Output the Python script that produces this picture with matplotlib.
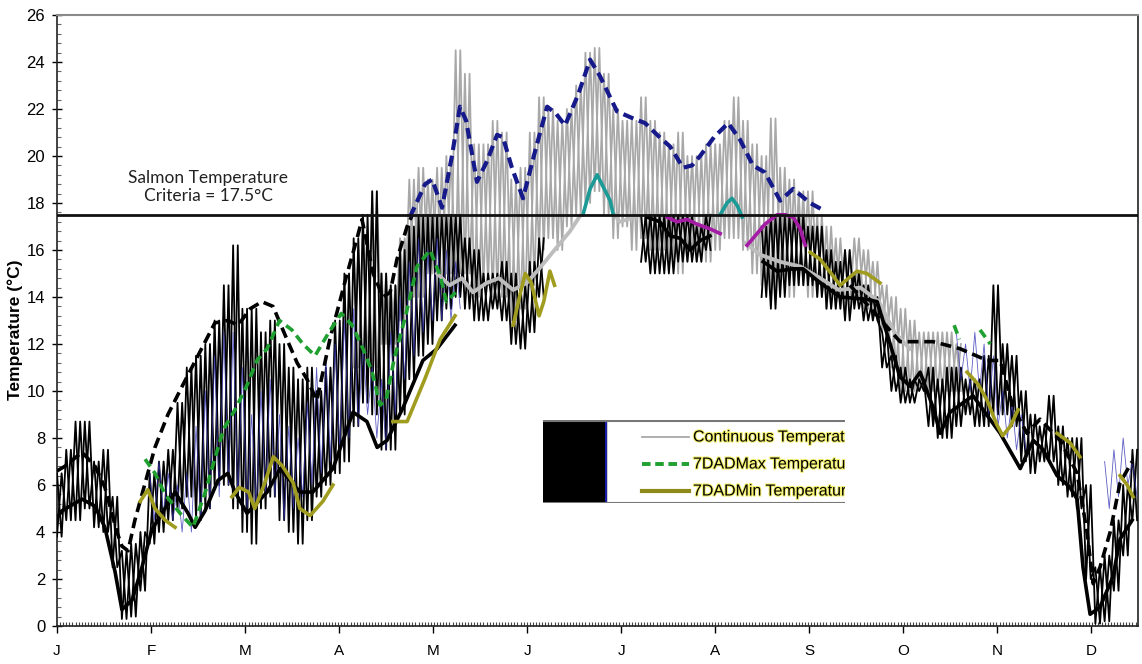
import numpy as np
import matplotlib
matplotlib.use("Agg")
import matplotlib.pyplot as plt
from matplotlib.patches import Rectangle
from matplotlib.ticker import MultipleLocator
import matplotlib.patheffects as pe

plt.rcParams['font.family'] = ['Liberation Sans', 'DejaVu Sans']

# day-of-year anchors every 3 days (Jan 1 .. mid Dec)
days = np.arange(0, 349, 3)
N = None

# black station, daily highs / lows
black_hi = [6.5, 7.5, 8.7, 8.7, 7.0, 7.5, 5.5, 3.2, 3.5, 4.0,
            6.5, 7.0, 7.5, 9.5, 11.0, 11.5, 12.0, 13.0, 14.5, 16.2,
            13.5, 13.5, 12.5, 13.0, 12.0, 11.0, 10.5, 11.0, 10.0, 11.0,
            13.0, 15.0, 16.5, 17.5, 18.5, 15.0, 14.5, 16.0, 17.0, 17.5,
            17.5, 17.5, 17.5, 17.5, 16.5, 16.0, 15.0, 15.0, 15.5, 15.0,
            14.5, 15.5, 16.5, N, N, N, N, N, N, N,
            N, N, N, 17.5, 17.5, 17.5, 17.5, 17.5, 17.5, 17.0,
            17.5, N, N, N, N, N, 17.0, 17.5, 17.5, 17.5,
            17.5, 17.0, 17.0, 16.0, 15.5, 16.0, 15.0, 14.5, 14.0, 12.5,
            11.5, 11.0, 10.5, 10.5, 11.0, 10.5, 11.0, 11.0, 10.5, 10.5,
            11.5, 14.5, 12.0, 11.5, 10.0, 9.0, 8.5, 9.8, 8.5, 8.0,
            8.0, 6.0, 2.5, 3.0, 4.5, 6.0, 7.5]
black_lo = [3.8, 4.5, 4.5, 5.0, 4.2, 4.0, 2.5, 0.3, 0.4, 1.5,
            3.5, 4.0, 4.5, 5.0, 5.5, 4.5, 5.0, 6.0, 6.0, 5.0,
            4.0, 3.5, 5.0, 5.5, 4.5, 4.0, 3.5, 4.5, 5.5, 6.0,
            6.5, 7.0, 8.5, 9.5, 9.0, 7.5, 7.5, 9.0, 10.5, 11.5,
            12.0, 13.0, 13.5, 14.0, 13.5, 13.0, 13.0, 13.5, 13.0, 12.0,
            11.8, 12.5, 14.0, N, N, N, N, N, N, N,
            N, N, N, 15.5, 15.0, 15.0, 15.0, 15.5, 15.5, 15.5,
            16.0, N, N, N, N, N, 14.0, 13.5, 14.0, 14.5,
            14.5, 14.5, 14.0, 13.5, 13.5, 13.0, 13.5, 13.0, 13.0, 11.0,
            10.0, 9.5, 9.5, 10.0, 8.5, 8.0, 8.0, 8.5, 9.0, 8.5,
            8.5, 9.0, 9.0, 8.5, 7.0, 6.5, 7.0, 7.0, 6.0, 5.5,
            5.0, 2.0, 0.1, 0.2, 1.5, 3.0, 4.5]

# gray station (continuous temperature)
gray_hi = [N] * 30 + [
    N, N, 16.0, 17.0, 18.5, 15.0, 14.5, 16.5, 19.0, 19.5,
    19.0, 19.5, 20.0, 24.5, 23.5, 20.5, 20.5, 21.5, 21.0, 19.0,
    19.5, 21.0, 22.5, 22.0, 21.5, 22.0, 23.0, 24.4, 24.6, 23.5,
    22.0, 21.5, 21.5, 22.5, 21.5, 21.0, 20.5, 21.0, 20.0, 20.0,
    20.5, 20.5, 21.5, 22.5, 21.5, 20.5, 20.0, 21.6, 19.5, 19.0,
    18.5, 18.5, 17.5, 17.0, 16.5, 16.0, 16.5, 16.0, 15.5, 14.5,
    14.0, 13.5, 13.0, 12.5, 12.5, 12.5, 12.5, 12.0, N, N] + [N] * 17
gray_lo = [N] * 30 + [
    N, N, 11.0, 11.0, 11.0, 12.0, 12.0, 13.0, 14.0, 14.0,
    15.0, 14.0, 15.0, 15.0, 15.0, 14.0, 14.5, 14.0, 14.0, 13.0,
    13.5, 14.5, 16.0, 16.5, 16.0, 17.0, 17.5, 18.0, 18.5, 17.5,
    16.5, 17.0, 16.0, 16.5, 16.0, 16.0, 15.5, 15.0, 15.5, 15.5,
    15.5, 16.0, 16.5, 16.5, 16.0, 15.0, 14.5, 14.0, 14.5, 14.0,
    14.5, 14.0, 14.0, 13.5, 13.5, 13.5, 14.0, 13.5, 13.0, 12.5,
    11.0, 10.0, 10.0, 10.0, 10.0, 10.0, 10.0, 10.0, N, N] + [N] * 17

# blue station
blue_hi = [N] * 10 + [
    6.5, 7.0, 6.5, 6.0, 6.5, 8.5, 10.0, 11.5, 12.5, 12.5,
    11.0, 9.0, 10.0, 10.5, 9.0, 8.5, 8.0, 9.5, 11.0, 11.5,
    12.0, 13.0, 13.5, 12.0, 11.0, 10.5, 12.5, 14.0, 15.5, 16.5,
    16.0, 16.5, 16.0, 15.5] + [N] * 53 + [
    12.5, 12.0, 12.5, 12.0, 11.5, 10.0, 9.5, 9.0] + [N] * 8 + [7.0, 7.5, 8.0, 7.0]
blue_lo = [N] * 10 + [
    4.5, 4.8, 4.5, 4.0, 4.0, 4.5, 5.0, 5.5, 6.0, 5.5,
    5.0, 5.0, 5.5, 5.5, 4.5, 5.0, 5.5, 6.0, 6.5, 7.0,
    7.5, 8.0, 8.5, 9.0, 8.0, 7.5, 9.0, 10.5, 11.5, 12.5,
    13.0, 13.0, 13.0, 13.5] + [N] * 53 + [
    10.5, 10.0, 10.0, 9.0, 8.5, 8.0, 7.5, 7.5] + [N] * 8 + [5.0, 5.5, 6.0, 5.5]

# black station 7-day averages
bmax_d = [0, 2.6, 8.1, 12.3, 15.5, 19.4, 21.0, 23.0, 25.2, 31.7, 35.9, 40.5, 45.6, 51.1,
          55.3, 58.6, 62.5, 66.3, 69.9, 74.4, 77.7, 80.9, 84.1, 88.3, 93.9, 97.1, 98.7,
          102.3, 105.5, 107.8, 110.0, 113.3, 115.0, 116,
          256.6, 265.4, 272.8, 283.5, 292.2, 301.0, 305.2, 309.4, 313.9, 318.1, 324.6,
          330.1, 333.3, 335.3, 337.5, 340.8, 344.0, 347.9]
bmax_t = [6.6, 6.8, 7.4, 6.8, 5.9, 4.0, 3.4, 3.2, 4.5, 7.6, 9.0, 10.2, 11.5, 12.9,
          13.0, 12.8, 13.5, 13.8, 13.6, 12.2, 11.2, 10.5, 9.6, 12.2, 15.0, 16.5, 17.3,
          15.0, 14.0, 14.2, 15.6, 17.0, 17.5, N,
          14.5, 13.2, 12.1, 12.1, 11.8, 11.3, 11.3, 9.3, 8.2, 8.8, 7.9,
          6.5, 4.0, 1.8, 2.5, 4.0, 6.1, 7.0]
bmin_d = [0, 1.6, 8.1, 12.3, 15.5, 18.8, 21.0, 24.3, 27.5, 30.7, 34.0, 38.2, 42.4, 44.7,
          47.9, 52.1, 55.3, 57.6, 61.5, 68.0, 72.2, 78.6, 82.8, 89.3, 95.8, 100.3, 103.6,
          106.8, 112.0, 118.4, 123.0, 128.8, 129,
          190.9, 195.1, 198.4, 201.6, 204.9, 208.1, 211.3, 212,
          228.5, 233.0, 238.2, 241.4, 247.0, 253.4, 262.1, 265.4, 269.6, 272.8, 276.1,
          279.3, 283.5, 285.8, 289.0, 293.2, 296.4, 305.2, 311.7, 315.9, 319.1, 323.6,
          327.8, 330.1, 332.0, 334.3, 337.5, 341.7, 344.0, 347.9]
bmin_t = [4.6, 4.9, 5.4, 5.1, 4.2, 2.3, 0.7, 1.1, 2.5, 4.1, 4.8, 5.7, 4.8, 4.2,
          4.9, 6.2, 6.5, 5.7, 4.8, 5.7, 6.7, 5.7, 5.7, 6.7, 9.1, 8.7, 7.6,
          7.9, 9.3, 11.3, 11.8, 12.8, N,
          17.4, 17.2, 16.6, 16.5, 16.0, 16.4, 16.6, N,
          15.5, 15.1, 15.2, 15.2, 14.6, 14.0, 13.9, 13.8, 12.0, 10.6, 10.2,
          10.8, 9.3, 8.2, 9.1, 9.5, 9.8, 8.2, 6.7, 7.9, 7.5, 6.4,
          5.9, 5.4, 2.5, 0.5, 0.8, 2.1, 3.7, 4.5]

# gray station 7DADMax
nmax_d = [114.2, 119.1, 121.4, 124.6, 127.8, 130.4, 132.4, 135.9, 139.2, 142.4, 144.3,
          147.2, 150.8, 154.7, 158.6, 161.5, 164.4, 168.6, 172.5, 175.7, 181.2, 186.4,
          190.3, 194.2, 198.4, 202.6, 205.5, 208.1, 212.6, 217.2, 221.0, 225.2, 229.1,
          234.0, 238.2, 243.7, 247.9]
nmax_t = [17.4, 18.8, 19.0, 17.8, 20.0, 22.1, 21.5, 18.9, 19.8, 20.9, 20.8,
          19.5, 18.2, 20.2, 22.1, 21.8, 21.3, 22.6, 24.1, 23.4, 21.9, 21.6,
          21.4, 20.9, 20.4, 19.5, 19.6, 20.0, 20.8, 21.4, 20.7, 19.6, 19.3,
          18.1, 18.6, 18.0, 17.7]
# gray station 7DADMin
gmin_d = [123, 127, 131, 134.6, 139, 143, 147.6, 152, 156, 161, 166, 170, 171,
          180, 182, 184.5, 188.7, 189,
          222.7, 227.5, 234, 240.5, 247, 253, 260, 266, 271, 276]
gmin_t = [15.0, 14.5, 14.8, 14.2, 14.6, 14.8, 14.3, 14.6, 15.2, 16.0, 16.8, 17.6, N,
          17.6, 17.2, 17.3, 17.5, N,
          16.3, 15.8, 15.5, 15.3, 14.8, 14.3, 14.4, 13.8, 12.5, 11.8]

# 7DADMax (green) and 7DADMin (olive)
green_d = [28.5, 31.7, 35.0, 39.8, 44.0, 48.0, 51.0, 54.0, 57.6, 61.0, 64.7, 68.0, 72.0,
           76.0, 79.6, 83.5, 88.0, 92.0, 95.5, 99.0, 102.0, 104.5, 106.5, 109.0, 113.0,
           116.5, 120.7, 124.0, 126.0, 129.0, 130,
           290.3, 292.0, 293, 298.7, 302.0]
green_t = [7.1, 6.5, 5.6, 4.8, 4.2, 5.7, 7.1, 8.4, 9.2, 10.1, 11.3, 11.8, 13.0,
           12.6, 12.0, 11.5, 12.5, 13.3, 12.8, 11.8, 10.8, 9.4, 9.6, 11.3, 13.3,
           15.3, 16.0, 14.9, 13.8, 14.2, N,
           12.8, 12.2, N, 12.6, 12.0]
olive_d = [26.9, 29.4, 31.7, 35.0, 38.2, 39,
           56.6, 59.0, 62.0, 64.0, 67.0, 70.0, 73.0, 76.4, 78.6, 81.9, 86.0, 89.3, 92,
           108.7, 113.3, 119.0, 124.0, 128.8, 129,
           147.6, 150.0, 151.5, 153.5, 156.0, 157.5, 159.5, 161.0, 162,
           243.7, 247.0, 251.1, 253.4, 258.9, 262.1, 266.3, 267,
           294.5, 298.0, 301.0, 304.0, 306.0, 308.5, 311.0, 312,
           323.6, 327.8, 331.0, 332, 344.0, 346.3, 348.2]
olive_t = [5.3, 5.8, 5.0, 4.5, 4.2, N,
           5.5, 5.9, 5.7, 5.0, 6.0, 7.2, 6.8, 6.1, 5.0, 4.7, 5.3, 6.0, N,
           8.7, 8.7, 10.5, 12.2, 13.2, N,
           12.8, 14.2, 15.0, 14.6, 13.2, 13.8, 15.1, 14.5, N,
           15.9, 15.6, 14.9, 14.5, 15.1, 15.0, 14.6, N,
           10.8, 10.3, 9.6, 8.6, 8.1, 8.5, 9.2, N,
           8.2, 7.8, 7.2, N, 6.4, 6.0, 5.5]

teal_d = [170.2, 172.5, 174.8, 176.7, 179.0, 180.0, 181, 214.6, 216.8, 218.4, 220.1, 221.7]
teal_t = [17.5, 18.6, 19.2, 18.7, 18.1, 17.5, N, 17.5, 18.0, 18.2, 17.9, 17.4]
mag_d = [197.4, 200.6, 203.9, 207.1, 211.3, 214.6, 216,
         223.3, 225.9, 229.1, 233.0, 235.6, 238.2, 240.5, 242.1]
mag_t = [17.4, 17.2, 17.3, 17.1, 16.9, 16.7, N,
         16.2, 16.6, 17.1, 17.5, 17.5, 17.4, 16.9, 16.2]

criteria = 17.5
month_labels = ['J', 'F', 'M', 'A', 'M', 'J', 'J', 'A', 'S', 'O', 'N', 'D']


def arr(v):
    return np.array(v, dtype=float)


def draw_band(ax, hi, lo, double=True, **kw):
    # zigzag between daily highs and lows (optionally a second, shifted one)
    x = np.column_stack([days, days + 1.5]).ravel()
    ax.plot(x, np.column_stack([arr(hi), arr(lo)]).ravel(), **kw)
    if double:
        ax.plot(x, np.column_stack([arr(lo), arr(hi)]).ravel(), **kw)


fig = plt.figure(figsize=(11.42, 6.64), dpi=100)
ax = fig.add_axes([0.0499, 0.0572, 0.9466, 0.9202])

draw_band(ax, gray_hi, gray_lo, color='#a8a8a8', lw=1.3, zorder=2)
draw_band(ax, black_hi, black_lo, color='black', lw=1.3, zorder=3)
draw_band(ax, blue_hi, blue_lo, double=False, color='#3535b5', lw=0.6, alpha=0.8, zorder=3.2)

ax.plot(gmin_d, arr(gmin_t), color='#bdbdbd', lw=2.8, zorder=4)
ax.plot(bmin_d, arr(bmin_t), color='black', lw=2.6, zorder=4)
ax.plot(bmax_d, arr(bmax_t), color='black', lw=2.6, dashes=(3, 1.6), zorder=5)
ax.plot(green_d, arr(green_t), color='#1fa030', lw=2.6, dashes=(2.5, 1.5), zorder=5)
ax.plot(olive_d, arr(olive_t), color='#a09c20', lw=2.6, zorder=5)
ax.plot(teal_d, arr(teal_t), color='#1b9a96', lw=2.6, zorder=5)
ax.plot(mag_d, arr(mag_t), color='#a41ca4', lw=2.6, zorder=5)
ax.plot(nmax_d, arr(nmax_t), color='#15198a', lw=3.0, dashes=(2.6, 1.4), zorder=6)

ax.axhline(criteria, color='#111111', lw=2.0, zorder=7)
ax.text(49, 17.95, 'Salmon Temperature\nCriteria = 17.5°C', ha='center', va='bottom',
        fontsize=12.5, family=['Lato', 'DejaVu Sans'], color='#222222',
        linespacing=1.2, zorder=8)

ax.set_xlim(0, 349.8)
ax.set_ylim(0, 26)
ax.set_xticks(np.arange(12) * 30.42)
ax.set_xticklabels(month_labels, fontsize=11)
ax.xaxis.set_minor_locator(MultipleLocator(1))
ax.yaxis.set_major_locator(MultipleLocator(2))
ax.yaxis.set_minor_locator(MultipleLocator(0.4))
ax.tick_params(axis='x', which='major', direction='out', length=5, width=1, pad=8)
ax.tick_params(axis='x', which='minor', direction='in', length=3, width=0.8, color='#444444')
ax.tick_params(axis='y', which='major', direction='inout', length=7, width=1, labelsize=12, pad=5)
ax.tick_params(axis='y', which='minor', direction='in', length=3, width=0.8, color='#666666')
ax.spines['top'].set_color('#8a8a8a')
ax.spines['top'].set_linewidth(1.5)
for s in ['left', 'bottom', 'right']:
    ax.spines[s].set_color('#222222')
    ax.spines[s].set_linewidth(1.2)

fig.text(15 / 1142, 1 - 330 / 664, 'Temperature (°C)', rotation=90, ha='center',
         va='center', fontsize=12.5, fontweight='bold')

# cropped legend box
lax = fig.add_axes([543 / 1142, 1 - 503 / 664, 302 / 1142, 83 / 664], zorder=10)
lax.set_xlim(543, 845)
lax.set_ylim(503, 420)
lax.axis('off')
lax.add_patch(Rectangle((543, 420), 845 - 543, 83, color='white', zorder=0))
lax.add_patch(Rectangle((543, 420), 63, 83, color='black', zorder=1))
lax.plot([606, 606], [420, 503], color='#2222cc', lw=1.2, zorder=2)
lax.plot([543, 845], [420.5, 420.5], color='#777777', lw=1.5, zorder=2)
lax.plot([543, 845], [502.5, 502.5], color='#777777', lw=1.5, zorder=2)
halo = [pe.withStroke(linewidth=1.6, foreground='#f4f070')]
entries = [('Continuous Temperature', dict(color='#a8a8a8', lw=1.3)),
           ('7DADMax Temperature', dict(color='#1fa030', lw=2.8, dashes=(2.2, 1.2))),
           ('7DADMin Temperature', dict(color='#8e8a1a', lw=3.0))]
for i, (lab, style) in enumerate(entries):
    yy = 437 + 27 * i
    lax.plot([642, 689], [yy, yy], zorder=3, **style)
    lax.text(693, yy, lab, va='center', ha='left', fontsize=11.5, clip_on=True,
             path_effects=halo, zorder=4)

fig.savefig('out.png', dpi=100)
